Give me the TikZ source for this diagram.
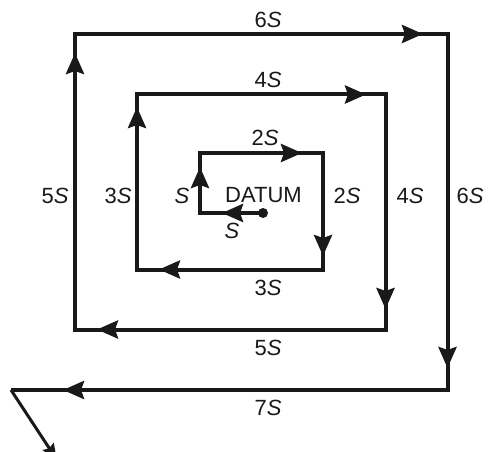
\documentclass[tikz,border=0pt]{standalone}
\usepackage{fontspec}
\setmainfont{Liberation Sans}
\usetikzlibrary{arrows.meta}
\tikzset{
  spiral/.style={line width=4pt, line join=miter, color=black!90},
  arr/.style={line width=4pt, color=black!90, -{Stealth[length=21pt, width=18pt, inset=3pt]}},
  diag/.style={line width=3pt, color=black!90, -{Stealth[length=16pt, width=13pt, inset=2pt]}},
  lbl/.style={font=\fontsize{22}{24}\selectfont, text=black!90, inner sep=0pt}
}
\begin{document}
\begin{tikzpicture}[x=1pt,y=-1pt]
\useasboundingbox (0,0) rectangle (488,452);
\fill[white] (0,0) rectangle (488,452);
% corners
\coordinate (D) at (263,213);
\coordinate (A1) at (200,213);
\coordinate (A2) at (200,153);
\coordinate (A3) at (323,153);
\coordinate (A4) at (323,269.5);
\coordinate (A5) at (137,269.5);
\coordinate (A6) at (137,94.5);
\coordinate (A7) at (385.5,94.5);
\coordinate (A8) at (385.5,329.5);
\coordinate (A9) at (75,329.5);
\coordinate (A10) at (75,34);
\coordinate (A11) at (447.5,34);
\coordinate (A12) at (447.5,390);
\coordinate (A13) at (11,390);
\coordinate (E) at (57,460);
% arrow tips
\coordinate (t1) at (222,213);
\coordinate (t2) at (200,167);
\coordinate (t3) at (302,153);
\coordinate (t4) at (323,256);
\coordinate (t5) at (159,269.5);
\coordinate (t6) at (137,107);
\coordinate (t7) at (366,94.5);
\coordinate (t8) at (385.5,309);
\coordinate (t9) at (97,329.5);
\coordinate (t10) at (75,53);
\coordinate (t11) at (423,34);
\coordinate (t12) at (447.5,368);
\coordinate (t13) at (63,390);
% spiral
\draw[spiral] (D) -- (A1) -- (A2) -- (A3) -- (A4) -- (A5) -- (A6) -- (A7) -- (A8) -- (A9) -- (A10) -- (A11) -- (A12) -- (A13);
\draw[diag] (A13) -- (E);
\foreach \a/\t in {D/t1,A1/t2,A2/t3,A3/t4,A4/t5,A5/t6,A6/t7,A7/t8,A8/t9,A9/t10,A10/t11,A11/t12,A12/t13}
  \draw[arr] (\a) -- (\t);
\fill[black!90] (D) circle (5pt);
% labels
\node[lbl] (l6top) at (268,20) {6\textit{S}};
\node[lbl] (l4top) at (268,80) {4\textit{S}};
\node[lbl] (l2top) at (265,138) {2\textit{S}};
\node[lbl] (l3bot) at (268,288) {3\textit{S}};
\node[lbl] (l5bot) at (268,348) {5\textit{S}};
\node[lbl] (l7bot) at (268,408) {7\textit{S}};
\node[lbl] (l5left) at (55,196) {5\textit{S}};
\node[lbl] (l3left) at (118,196) {3\textit{S}};
\node[lbl] (l1left) at (182,196) {\textit{S}};
\node[lbl] (datum) at (263.5,195) {DATUM};
\node[lbl] (l1bot) at (232,231) {\textit{S}};
\node[lbl] (l2right) at (347,196) {2\textit{S}};
\node[lbl] (l4right) at (410,196) {4\textit{S}};
\node[lbl] (l6right) at (470,196) {6\textit{S}};
\end{tikzpicture}
\end{document}
